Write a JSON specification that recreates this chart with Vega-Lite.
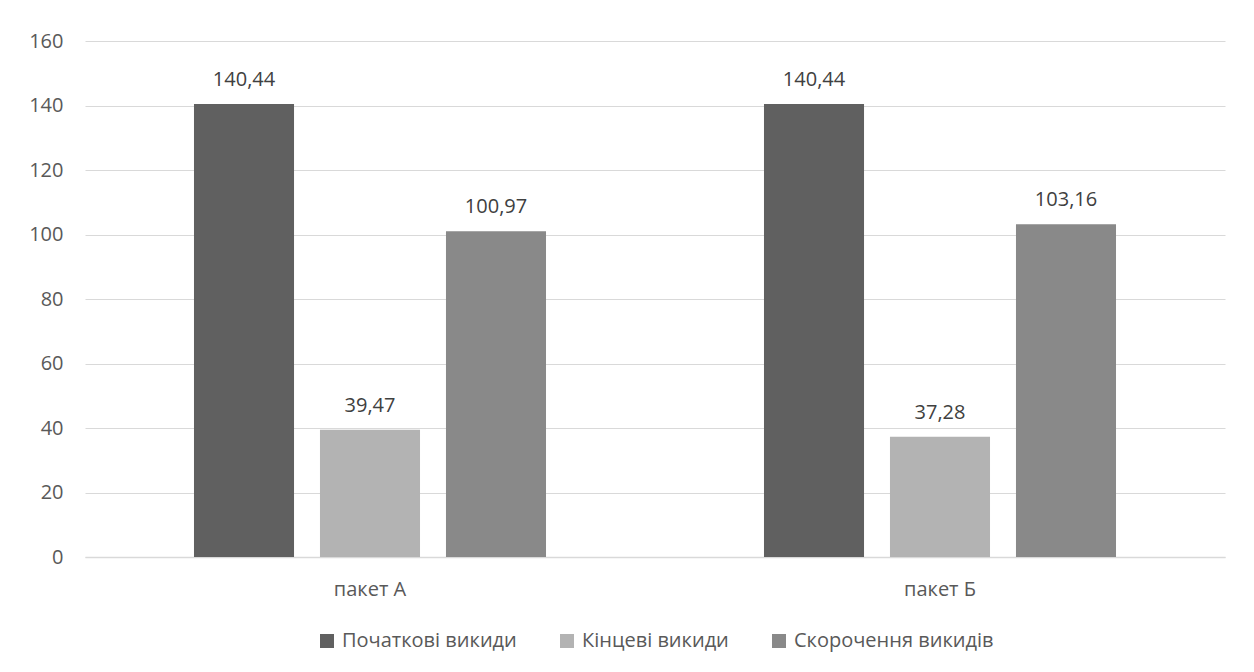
{
  "$schema": "https://vega.github.io/schema/vega-lite/v6.json",
  "autosize": {"type": "none"},
  "width": 1140,
  "height": 516,
  "padding": {"left": 85, "top": 41, "right": 29, "bottom": 115},
  "background": "white",
  "config": {
    "locale": {"number": {"decimal": ",", "thousands": " ", "grouping": [3], "currency": ["", ""]}},
    "view": {"stroke": null},
    "font": "Open Sans",
    "axis": {"labelFont": "Open Sans", "labelColor": "#595959", "labelFontSize": 20},
    "legend": {"layout": {"bottom": {"anchor": "middle"}}}
  },
  "data": {
    "values": [
      {"group": "пакет А", "series": "Початкові викиди", "value": 140.44},
      {"group": "пакет А", "series": "Кінцеві викиди", "value": 39.47},
      {"group": "пакет А", "series": "Скорочення викидів", "value": 100.97},
      {"group": "пакет Б", "series": "Початкові викиди", "value": 140.44},
      {"group": "пакет Б", "series": "Кінцеві викиди", "value": 37.28},
      {"group": "пакет Б", "series": "Скорочення викидів", "value": 103.16}
    ]
  },
  "encoding": {
    "x": {"field": "group", "type": "nominal", "sort": null,
      "scale": {"paddingInner": 0, "paddingOuter": 0},
      "axis": {"title": null, "labelAngle": 0, "ticks": false, "domainColor": "#d9d9d9", "domainWidth": 1.5, "labelPadding": 22, "grid": false, "labelFontSize": 20}},
    "xOffset": {"field": "series", "type": "nominal",
      "sort": ["Початкові викиди", "Кінцеві викиди", "Скорочення викидів"],
      "scale": {"paddingInner": 0.206, "paddingOuter": 0.865}},
    "y": {"field": "value", "type": "quantitative",
      "scale": {"domain": [0, 160], "nice": false},
      "axis": {"title": null, "values": [0, 20, 40, 60, 80, 100, 120, 140, 160], "ticks": false, "domain": false, "labelPadding": 22, "gridColor": "#d9d9d9", "gridWidth": 1.2, "format": "d", "labelFontSize": 20}}
  },
  "layer": [
    {
      "mark": {"type": "bar"},
      "encoding": {
        "color": {"field": "series", "type": "nominal",
          "sort": ["Початкові викиди", "Кінцеві викиди", "Скорочення викидів"],
          "scale": {"domain": ["Початкові викиди", "Кінцеві викиди", "Скорочення викидів"], "range": ["#606060", "#b3b3b3", "#898989"]},
          "legend": {"title": null, "orient": "bottom", "direction": "horizontal", "symbolType": "square", "symbolSize": 196, "symbolStrokeWidth": 0, "symbolOpacity": 1, "labelFontSize": 20, "labelFont": "Open Sans", "labelColor": "#595959", "labelLimit": 400, "columnPadding": 40, "labelOffset": 5, "offset": 32}}
      }
    },
    {
      "mark": {"type": "text", "dy": -18, "baseline": "alphabetic", "fontSize": 20, "color": "#404040", "font": "Open Sans"},
      "encoding": {
        "text": {"field": "value", "type": "quantitative", "format": ".2f"}
      }
    }
  ]
}
